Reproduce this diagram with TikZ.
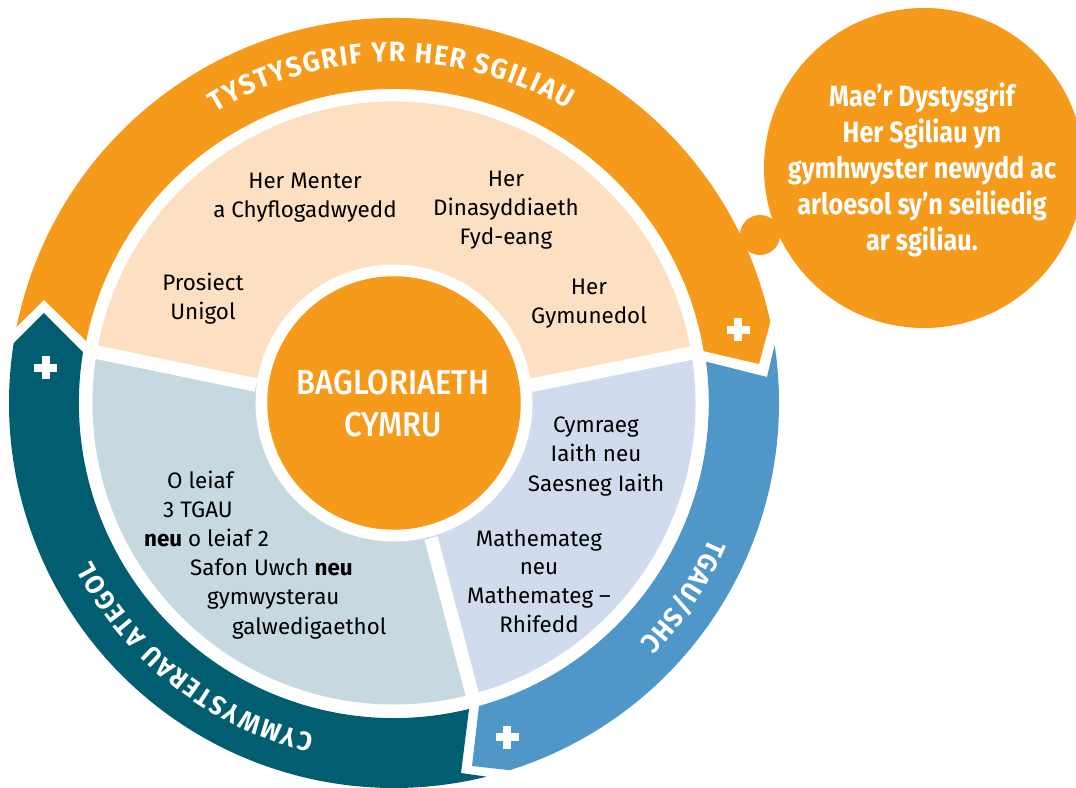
\documentclass[tikz,border=0pt]{standalone}
\usepackage{fontspec}
\setmainfont{Fira Sans}
\newfontfamily\condfont[FakeStretch=0.86]{Fira Sans}
\newfontfamily\hubfont[FakeStretch=0.9]{Fira Sans Medium}
\newfontfamily\bandfont[FakeStretch=0.94]{Fira Sans}
\usetikzlibrary{decorations.text}
\definecolor{cOrange}{HTML}{F59A1A}
\definecolor{cPeach}{HTML}{FDE0C1}
\definecolor{cPaleBlue}{HTML}{D0DCEE}
\definecolor{cPaleTeal}{HTML}{C6D8E0}
\definecolor{cTeal}{HTML}{005E70}
\definecolor{cBlue}{HTML}{4F97C8}
\newcommand{\plusmark}[2]{\fill[white] (#1-11.5,#2-4) rectangle (#1+11.5,#2+4); \fill[white] (#1-4,#2-11.5) rectangle (#1+4,#2+11.5);}
\tikzset{
  body/.style={font=\fontsize{22.4}{29.2}\selectfont, align=center, anchor=base, inner sep=0pt, text=black},
  sepline/.style={draw=white, line width=13.5pt},
  bandtext/.style={decorate, decoration={text along path, text align=fit to path, text={#1}}},
}
\begin{document}
\begin{tikzpicture}[x=1pt,y=1pt]
\useasboundingbox (-394,-384) rectangle (682,403);
\clip (-394,-384) rectangle (682,403);
% outer bands
\fill[cOrange] (12.15:385) arc[start angle=12.15,end angle=168.6,radius=385]
  -- (44-394,403-300) -- (168.6:314) arc[start angle=168.6,end angle=9.5,radius=314]
  -- (759-394,403-364) -- cycle;
\fill[cTeal] (171.05:385) arc[start angle=171.05,end angle=283.93,radius=385]
  -- (461-394,403-773) -- (469-394,403-709)
  arc[start angle=283.8,end angle=170.7,radius=315]
  -- (44-394,403-313) -- cycle;
\fill[cBlue] (8.65:385) arc[start angle=8.65,end angle=-72.5,radius=385]
  -- (472-394,403-766) -- (479-394,403-706)
  arc[start angle=-74.3,end angle=7.5,radius=315]
  -- (767-394,403-377) -- cycle;
% inner sectors
\fill[cPeach] (-138,18) -- (170.3:301.5) arc[start angle=170.3,end angle=9.54,radius=301.5] -- (136,17.5) -- (0,0) -- cycle;
\fill[cPaleBlue] (136,17.5) -- (9.54:301.5) arc[start angle=9.54,end angle=-75,radius=301.5] -- (37,-135) -- (0,0) -- cycle;
\fill[cPaleTeal] (37,-135) -- (-75:301.5) arc[start angle=-75,end angle=-189.7,radius=301.5] -- (-138,18) -- (0,0) -- cycle;
\path[sepline] (-138,18) -- (-303.5,52);
\path[sepline] (136,17.5) -- (303,51);
\path[sepline] (37,-135) -- (80,-298);
% centre
\fill[white] (0,0) circle[radius=138.5];
\node[circle, fill=cOrange, minimum size=253.5pt, inner sep=0pt] (hub) at (0,0) {};
\node[font=\hubfont\fontsize{34.5}{43}\selectfont, text=white, align=center, anchor=base, inner sep=0pt] (hubtext) at (393-394,403-437) {BAGLORIAETH\\CYMRU};
% bubble
\fill[cOrange] (924-394,403-168) circle[radius=160];
\fill[cOrange] (760-394,403-235) circle[radius=20];
\node[font=\condfont\bfseries\fontsize{29.3}{36}\selectfont, text=white, align=center, anchor=base, inner sep=0pt] (bubbletext) at (922-394,403-251) {Mae’r Dystysgrif\\Her Sgiliau yn\\gymhwyster newydd ac\\arloesol sy’n seiliedig\\ar sgiliau.};
% plus marks
\plusmark{738-394}{403-330}
\plusmark{46-394}{403-368}
\plusmark{507-394}{403-737}
% band labels
\path[bandtext={|\bandfont\bfseries\fontsize{28}{32}\selectfont\color{white}|TYSTYSGRIF YR HER SGILIAU}] (121.5:341) arc[start angle=121.5,end angle=59.5,radius=341];
\path[bandtext={|\bandfont\bfseries\fontsize{26.5}{32}\selectfont\color{white}|CYMWYSTERAU ATEGOL}] (256.5:341) arc[start angle=256.5,end angle=207.5,radius=341];
\path[bandtext={|\bandfont\bfseries\fontsize{27}{32}\selectfont\color{white}|TGAU/SHC}] (-23.3:343) arc[start angle=-23.3,end angle=-44.2,radius=343];
% body text
\node[body] (menter) at (305-394,403-218) {Her Menter\\a Chyflogadwyedd};
\node[body] (dinas) at (506-394,403-245) {Her\\Dinasyddiaeth\\Fyd-eang};
\node[body] (prosiect) at (203-394,403-320) {Prosiect\\Unigol};
\node[body] (gymunedol) at (589-394,403-324) {Her\\Gymunedol};
\node[body] (cymraeg) at (596-394,403-491) {Cymraeg\\Iaith neu\\Saesneg Iaith};
\node[body, font=\fontsize{22.4}{28.6}\selectfont] (mathemateg) at (539-394,403-632) {Mathemateg\\neu\\Mathemateg –\\Rhifedd};
\node[body, align=left, anchor=base west] (leiaf) at (144-394,403-634) {\hspace*{23pt}O leiaf\\\hspace*{19pt}3 TGAU\\\textbf{neu} o leiaf 2\\\hspace*{46pt}Safon Uwch \textbf{neu}\\\hspace*{63pt}gymwysterau\\\hspace*{88pt}galwedigaethol};
\end{tikzpicture}
\end{document}
